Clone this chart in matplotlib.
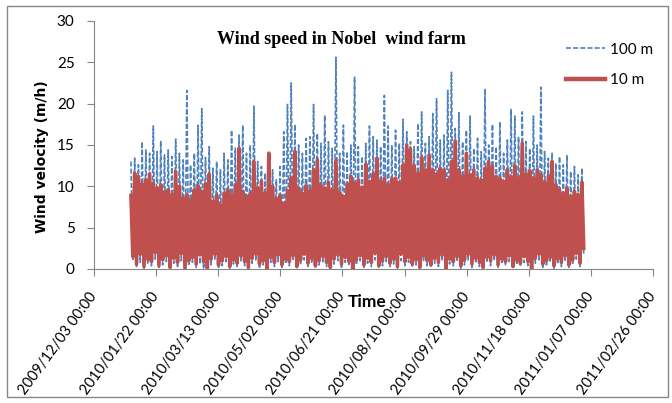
#Wind speed plot, Nobel wind farm, 10 m and 100 m heights, year 2010
import numpy as np
import pandas as pd
import matplotlib
matplotlib.use('Agg')
import matplotlib.pyplot as plt
from matplotlib.lines import Line2D
from matplotlib.patches import Rectangle

#3-day bins from 2010/01/01, upper and lower edge of each trace
start_date='2010-01-01'
bin_days=3

max_10m=[8.9,11.6,11.2,10.3,10.8,11.5,10.4,9.8,10.2,9.3,
	9.6,9.0,11.8,10.0,8.6,9.0,8.4,9.6,10.1,9.4,
	10.3,11.5,8.2,8.9,7.8,9.2,9.6,9.0,10.2,14.6,
	9.4,8.7,9.1,13.0,9.8,10.6,9.2,14.0,10.0,8.5,
	8.9,7.9,9.5,11.0,14.2,9.8,9.2,10.1,9.5,12.0,
	13.2,10.2,9.8,10.5,9.6,13.2,9.3,8.8,10.3,11.2,
	10.4,10.8,9.9,12.7,10.6,11.5,13.4,10.6,11.0,10.2,
	10.9,11.0,10.5,12.6,15.0,14.5,12.5,11.6,13.5,12.0,
	13.8,12.0,11.5,12.2,12.0,10.8,13.0,15.5,12.0,11.2,
	14.0,11.4,12.0,11.0,10.8,12.2,13.0,12.4,11.2,11.0,
	10.6,12.0,11.2,12.5,11.0,15.2,11.5,11.9,11.0,12.0,
	11.4,10.5,11.3,13.0,10.2,9.6,9.2,9.8,8.8,9.4,
	9.0,10.5]
min_10m=[1.5,0.6,1.8,0.3,1.2,0.9,2.0,0.4,1.1,1.6,
	0.2,1.3,0.8,1.9,0.0,1.0,1.4,0.6,1.7,0.9,
	0.1,1.2,1.8,0.5,1.0,1.5,0.3,1.1,0.7,1.6,
	0.9,0.2,1.3,1.8,0.6,1.0,0.0,1.4,0.8,1.7,
	0.5,1.2,0.9,1.6,0.3,1.1,1.8,0.7,1.3,0.4,
	1.0,1.5,0.8,0.2,1.2,1.7,0.6,1.4,0.9,0.0,
	1.1,1.6,0.5,1.3,0.8,1.9,0.4,1.0,1.5,0.7,
	1.2,0.3,1.8,0.9,1.4,0.6,1.1,0.2,1.6,1.0,
	0.5,1.3,0.8,1.7,0.0,1.2,0.9,1.5,0.4,1.1,
	1.8,0.6,1.3,0.8,0.2,1.4,1.0,1.7,0.5,1.2,
	0.9,1.6,0.3,1.1,0.7,1.5,0.9,0.0,1.3,1.8,
	0.6,1.0,1.4,0.4,1.2,0.8,1.6,0.5,1.1,1.9,
	0.7,2.5]
max_100m=[13.0,13.4,12.6,15.4,14.4,14.0,17.3,14.2,15.5,13.8,
	14.4,13.6,15.7,14.0,13.2,21.6,12.6,14.0,17.4,19.4,
	13.5,14.8,12.2,13.0,12.0,14.0,13.2,16.8,14.6,16.2,
	17.4,14.0,15.0,19.7,13.0,12.4,11.6,14.2,12.0,10.8,
	12.4,16.6,19.9,22.5,17.5,15.0,14.0,15.8,16.0,19.9,
	16.4,15.2,18.6,15.4,14.6,25.6,14.0,17.4,14.2,15.0,
	23.2,14.8,13.6,15.2,17.3,16.0,15.6,14.8,21.0,17.3,
	15.0,16.8,15.2,18.1,16.6,15.4,14.8,17.6,19.0,15.2,
	16.0,18.8,20.6,15.6,16.2,21.6,23.8,17.0,18.9,15.4,
	16.8,18.5,14.6,15.8,14.2,21.8,15.0,17.5,14.8,17.8,
	14.0,15.6,19.3,18.5,16.0,19.0,15.4,14.6,18.5,15.0,
	22.0,14.2,13.4,14.0,12.8,13.6,12.6,13.8,11.8,12.4,
	11.4,12.2]
min_100m=[1.0,0.3,0.8,0.1,0.6,0.4,1.2,0.2,0.5,0.9,
	0.0,0.7,0.3,1.0,0.0,0.4,0.8,0.2,0.6,0.0,
	0.0,0.5,1.1,0.2,0.4,0.9,0.1,0.6,0.3,1.0,
	0.4,0.0,0.7,1.0,0.2,0.5,0.0,0.8,0.3,0.9,
	0.2,0.6,0.4,1.0,0.1,0.5,1.1,0.3,0.7,0.1,
	0.5,0.9,0.3,0.0,0.6,1.0,0.2,0.8,0.4,0.0,
	0.5,1.0,0.2,0.7,0.3,1.1,0.1,0.4,0.9,0.3,
	0.6,0.1,1.0,0.4,0.8,0.2,0.5,0.0,0.9,0.4,
	0.2,0.7,0.3,1.0,0.0,0.6,0.4,0.9,0.1,0.5,
	1.1,0.2,0.7,0.3,0.0,0.8,0.4,1.0,0.2,0.6,
	0.4,0.9,0.1,0.5,0.3,0.8,0.4,0.0,0.7,1.1,
	0.2,0.5,0.8,0.1,0.6,0.3,0.9,0.2,0.5,1.2,
	0.3,1.6]

tick_labels=['2009/12/03 00:00','2010/01/22 00:00','2010/03/13 00:00','2010/05/02 00:00',
	'2010/06/21 00:00','2010/08/10 00:00','2010/09/29 00:00','2010/11/18 00:00',
	'2011/01/07 00:00','2011/02/26 00:00']
y_ticks=[0,5,10,15,20,25,30]

#each bin gives a peak then a trough, so the trace zig-zags like the hourly record
n_bins=len(max_10m)
t0=pd.Timestamp(start_date)
t_hi=[t0+pd.Timedelta(days=bin_days*ii+0.75) for ii in range(n_bins)]
t_lo=[t0+pd.Timedelta(days=bin_days*ii+2.25) for ii in range(n_bins)]

t_=[]
v_10=[]
v_100=[]
for ii in range(n_bins):
	t_+= [t_hi[ii],t_lo[ii]]
	v_10+= [max_10m[ii],min_10m[ii]]
	v_100+= [max_100m[ii],min_100m[ii]]

tick_dates=[pd.to_datetime(s,format='%Y/%m/%d %H:%M') for s in tick_labels]

blue='#4F81BD'
red='#C0504D'
axis_grey='#868686'
sans=['Lato','DejaVu Sans']

fig=plt.figure(figsize=(6.72,4.03),dpi=100)
ax=fig.add_axes([94/672,134/403,559/672,248/403])

ax.plot(t_,v_100,color=blue,lw=1.2,dashes=(3,1.3),label='100 m')
ax.plot(t_,v_10,color=red,lw=2.6,label='10 m')

ax.set_xlim(tick_dates[0],tick_dates[-1])
ax.set_ylim(0,30)
ax.set_xticks(tick_dates)
ax.set_xticklabels(tick_labels,rotation=54,ha='right',va='center',rotation_mode='anchor',
	fontsize=10.5,family=sans)
ax.set_yticks(y_ticks)
ax.set_yticklabels([str(v) for v in y_ticks],fontsize=11,family=sans)
ax.tick_params(axis='x',length=5,color=axis_grey,pad=13)
ax.tick_params(axis='y',length=5,color=axis_grey,pad=9)

for s in ['top','right']:
	ax.spines[s].set_visible(False)
for s in ['left','bottom']:
	ax.spines[s].set_color(axis_grey)

fig.text(341/672,1-39/403,'Wind speed in Nobel  wind farm',ha='center',va='center',
	fontsize=13,fontweight='bold',family=['Liberation Serif','DejaVu Serif'])
fig.text(41.7/672,1-157/403,'Wind velocity (m/h)',rotation=90,ha='center',va='center',
	fontsize=10,fontweight='bold',family='DejaVu Sans')
fig.text(367/672,1-302/403,'Time',ha='center',va='center',fontsize=12.5,fontweight='bold',family=sans)

#legend drawn with thicker handles like the original
h_blue=Line2D([],[],color=blue,lw=1.2,dashes=(3,1.3))
h_red=Line2D([],[],color=red,lw=3.2)
fig.legend([h_blue,h_red],['100 m','10 m'],loc='upper left',bbox_to_anchor=(558/672,1-35/403),
	frameon=False,borderpad=0,handlelength=2.6,handletextpad=0.3,labelspacing=1.1,
	prop={'family':sans,'size':11})

#chart border
fig.patches.append(Rectangle((7/672,6/403),661/672,391/403,transform=fig.transFigure,
	fill=False,edgecolor=axis_grey,lw=1.0))

plt.savefig('out.png',dpi=100)
